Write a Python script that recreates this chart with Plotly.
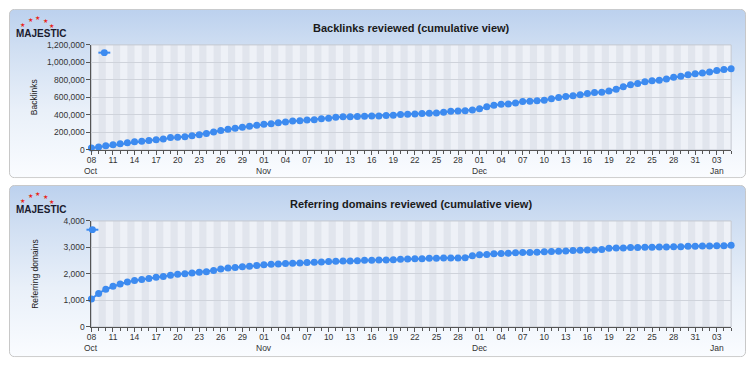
import base64
import datetime as dt
import plotly.graph_objects as go

# ---------------- data ----------------
start = dt.date(2012, 10, 8)
dates = [start + dt.timedelta(days=i) for i in range(90)]  # 08 Oct .. 05 Jan

backlinks = [
    # Oct 8 - Oct 31
    22000, 33000, 48000, 59000, 70000, 81000, 93000, 100000, 107000, 115000,
    126000, 141000, 144000, 152000, 163000, 174000, 189000, 204000, 222000, 237000,
    248000, 259000, 270000, 281000,
    # Nov
    293000, 300000, 311000, 319000, 330000, 333000, 341000, 344000, 356000, 363000,
    374000, 378000, 378000, 381000, 385000, 389000, 389000, 393000, 396000, 404000,
    407000, 411000, 415000, 419000, 422000, 430000, 441000, 444000, 448000, 455000,
    # Dec
    470000, 493000, 511000, 522000, 526000, 537000, 552000, 556000, 563000, 567000,
    585000, 600000, 611000, 619000, 630000, 644000, 656000, 659000, 674000, 693000,
    722000, 744000, 759000, 778000, 789000, 796000, 811000, 830000, 841000, 859000,
    870000,
    # Jan 1 - 5
    878000, 889000, 907000, 919000, 926000,
]

ref_domains = [
    # Oct 8 - Oct 31
    1055, 1264, 1423, 1534, 1620, 1693, 1755, 1791, 1828, 1877,
    1902, 1951, 1988, 2012, 2037, 2061, 2086, 2135, 2184, 2221,
    2245, 2270, 2294, 2319,
    # Nov
    2344, 2368, 2380, 2393, 2405, 2417, 2429, 2442, 2454, 2466,
    2479, 2491, 2491, 2503, 2515, 2515, 2528, 2528, 2540, 2552,
    2564, 2577, 2577, 2589, 2589, 2601, 2601, 2601, 2613, 2687,
    # Dec
    2724, 2736, 2761, 2773, 2785, 2798, 2810, 2810, 2822, 2834,
    2847, 2859, 2871, 2883, 2896, 2908, 2908, 2920, 2969, 2982,
    2982, 2994, 2994, 3006, 3006, 3018, 3018, 3031, 3031, 3043,
    3043,
    # Jan 1 - 5
    3055, 3055, 3067, 3067, 3080,
]

tick_labels = ["08", "11", "14", "17", "20", "23", "26", "29",
               "01", "04", "07", "10", "13", "16", "19", "22", "25", "28",
               "01", "04", "07", "10", "13", "16", "19", "22", "25", "28", "31",
               "03"]
tick_vals = dates[::3]
month_labels = ["Oct", "Nov", "Dec", "Jan"]
month_label_dates = [dt.date(2012, 10, 8), dt.date(2012, 11, 1),
                     dt.date(2012, 12, 1), dt.date(2013, 1, 3)]

titles = ["Backlinks reviewed (cumulative view)", "Referring domains reviewed (cumulative view)"]
y_titles = ["Backlinks", "Referring domains"]

# ---------------- layout geometry (pixels) ----------------
W, H = 751, 367
PX0, PX1 = 87, 731
panels = [dict(top=4, bottom=178, plot_top=41, plot_bot=149, legend_x=100, legend_y=49),
          dict(top=185, bottom=362, plot_top=222, plot_bot=331, legend_x=88, legend_y=231)]

def fx(px):
    return px / W

def fy(py):
    return 1 - py / H

LINE_COLOR = "#3d8bf0"
FONT = "Liberation Sans, Arial, sans-serif"

def panel_image(w, h):
    svg = f'''<svg xmlns="http://www.w3.org/2000/svg" width="{w}" height="{h}" viewBox="0 0 {w} {h}" preserveAspectRatio="none">
<defs><linearGradient id="g" x1="0" y1="0" x2="0" y2="1">
<stop offset="0" stop-color="#bcd1ee"/><stop offset="0.22" stop-color="#cfdef2"/>
<stop offset="0.6" stop-color="#e9f0f9"/><stop offset="1" stop-color="#fafcff"/>
</linearGradient></defs>
<rect x="0.5" y="0.5" width="{w-1}" height="{h-1}" rx="5" ry="5" fill="url(#g)" stroke="#c6c6c6" stroke-width="1"/>
</svg>'''
    return "data:image/svg+xml;base64," + base64.b64encode(svg.encode()).decode()

fig = go.Figure()
images, shapes, annotations = [], [], []
series = [backlinks, ref_domains]
y_ranges = [[0, 1200000], [0, 4000]]
y_dticks = [200000, 1000]

for k, p in enumerate(panels):
    xa = "x" if k == 0 else "x2"
    ya = "y" if k == 0 else "y2"
    fig.add_trace(go.Scatter(
        x=dates, y=series[k], mode="lines+markers", xaxis=xa, yaxis=ya,
        line=dict(color=LINE_COLOR, width=2),
        marker=dict(color=LINE_COLOR, size=7),
        cliponaxis=False, showlegend=False, hoverinfo="x+y"))

    axis_common_x = dict(
        type="date", range=[dates[0], dates[-1]],
        domain=[fx(PX0), fx(PX1)],
        tickvals=tick_vals, ticktext=tick_labels, tickangle=0,
        ticks="outside", ticklen=4, tickcolor="#555", tickwidth=1,
        ticklabelstandoff=-2,
        showline=True, linecolor="#555", linewidth=1,
        showgrid=False, zeroline=False,
        tickfont=dict(family=FONT, size=8.5, color="#333"),
        minor=dict(ticks="outside", ticklen=3, tickcolor="#555", dtick=86400000,
                   tick0=dates[0], showgrid=False),
        fixedrange=True,
    )
    axis_common_y = dict(
        range=y_ranges[k], dtick=y_dticks[k], tickformat=",d",
        domain=[fy(p["plot_bot"]), fy(p["plot_top"])],
        ticks="outside", ticklen=4, tickcolor="#555",
        showline=True, linecolor="#555", linewidth=1,
        showgrid=True, gridcolor="#cfd3db", gridwidth=1, zeroline=False,
        tickfont=dict(family=FONT, size=8.5, color="#333"),
        fixedrange=True,
    )
    if k == 0:
        fig.update_layout(xaxis=dict(axis_common_x, anchor="y"), yaxis=dict(axis_common_y, anchor="x"))
    else:
        fig.update_layout(xaxis2=dict(axis_common_x, anchor="y2"), yaxis2=dict(axis_common_y, anchor="x2"))

    # month labels under the first tick of each month
    for m_date, m_text in zip(month_label_dates, month_labels):
        annotations.append(dict(text=m_text, xref=xa, yref="paper", x=m_date,
                                y=fy(p["plot_bot"] + 22), showarrow=False,
                                xanchor="center", yanchor="middle",
                                font=dict(family=FONT, size=8.5, color="#333")))

    # panel background
    images.append(dict(source=panel_image(746 - 4, p["bottom"] - p["top"]),
                       xref="paper", yref="paper", x=fx(4), y=fy(p["top"]),
                       sizex=(746 - 4) / W, sizey=(p["bottom"] - p["top"]) / H,
                       sizing="stretch", xanchor="left", yanchor="top", layer="below"))

    # plot area: base and alternating day stripes
    shapes.append(dict(type="rect", xref=f"{xa} domain", yref=f"{ya} domain",
                       x0=0, x1=1, y0=0, y1=1, fillcolor="#eef1f7",
                       line=dict(width=0), layer="below"))
    for i in range(1, len(dates) - 1, 2):
        shapes.append(dict(type="rect", xref=xa, yref=f"{ya} domain",
                           x0=dates[i], x1=dates[i + 1], y0=0, y1=1,
                           fillcolor="#e1e5ed", line=dict(width=0), layer="below"))
    shapes.append(dict(type="rect", xref=f"{xa} domain", yref=f"{ya} domain",
                       x0=0, x1=1, y0=0, y1=1, fillcolor="rgba(0,0,0,0)",
                       line=dict(width=1, color="#c4c8d0"), layer="below"))

    # legend glyph
    lx, ly = p["legend_x"], p["legend_y"]
    shapes.append(dict(type="line", xref="paper", yref="paper",
                       x0=fx(lx - 6), x1=fx(lx + 6), y0=fy(ly), y1=fy(ly),
                       line=dict(color=LINE_COLOR, width=2)))
    shapes.append(dict(type="circle", xref="paper", yref="paper",
                       x0=fx(lx - 3.5), x1=fx(lx + 3.5), y0=fy(ly - 3.5), y1=fy(ly + 3.5),
                       fillcolor=LINE_COLOR, line=dict(width=0)))

    # title
    annotations.append(dict(text=f"<b>{titles[k]}</b>", xref="paper", yref="paper",
                            x=fx((PX0 + PX1) / 2), y=fy(p["top"] + 20), showarrow=False,
                            xanchor="center", yanchor="middle",
                            font=dict(family=FONT, size=11, color="#1a1a1a")))
    # y axis title
    annotations.append(dict(text=y_titles[k], xref="paper", yref="paper",
                            x=fx(30), y=fy((p["plot_top"] + p["plot_bot"]) / 2), showarrow=False,
                            textangle=-90, xanchor="center", yanchor="middle",
                            font=dict(family=FONT, size=8.5, color="#222")))
    # logo
    annotations.append(dict(text="<b>MAJESTIC</b>", xref="paper", yref="paper",
                            x=fx(9), y=fy(p["top"] + 25), showarrow=False,
                            xanchor="left", yanchor="middle",
                            font=dict(family=FONT, size=10, color="#1b1b2e")))
    for sx, sy in [(18, 16), (26, 11), (33, 9), (41, 12), (47, 17)]:
        annotations.append(dict(text="★", xref="paper", yref="paper",
                                x=fx(sx), y=fy(p["top"] + sy), showarrow=False,
                                xanchor="center", yanchor="middle",
                                font=dict(family="DejaVu Sans", size=6, color="#e8281c")))

fig.update_layout(
    width=W, height=H, margin=dict(l=0, r=0, t=0, b=0),
    paper_bgcolor="white", plot_bgcolor="rgba(0,0,0,0)",
    images=images, shapes=shapes, annotations=annotations,
    showlegend=False, hovermode="closest",
)

fig.write_html("out.html", config={"displayModeBar": False},
               post_script="document.body.style.margin='0';document.body.style.padding='0';")
